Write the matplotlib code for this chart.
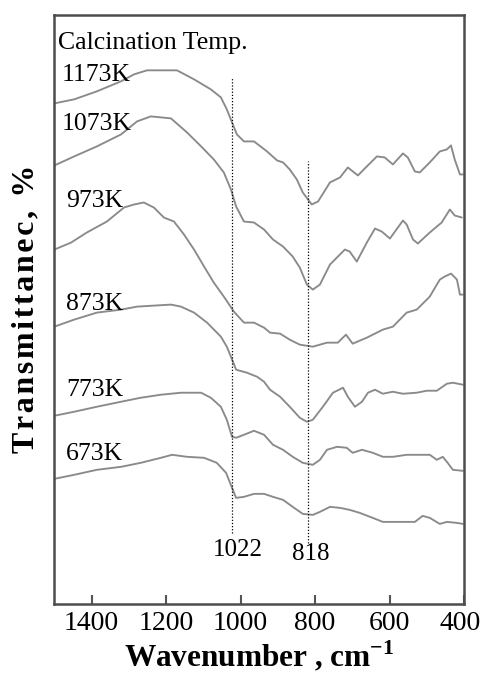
import matplotlib
matplotlib.use("Agg")
import matplotlib.pyplot as plt
import matplotlib.transforms as mtransforms

plt.rcParams['font.family'] = ['Liberation Serif', 'DejaVu Serif']
plt.rcParams['mathtext.fontset'] = 'custom'
plt.rcParams['mathtext.rm'] = 'Liberation Serif'
plt.rcParams['mathtext.bf'] = 'Liberation Serif:bold'

# ---- data (wavenumber, cm-1 ; transmittance in arbitrary offset units) ----
labels = ["1173K", "1073K", "973K", "873K", "773K", "673K"]

w_1173 = [1500, 1447, 1386, 1321, 1286, 1251, 1171, 1125, 1080, 1053, 1037, 1023, 1010, 991, 964, 929,
          902, 886, 868, 849, 833, 809, 792, 760, 733, 712, 685, 661, 634, 613, 591, 564, 551, 532,
          519, 492, 465, 446, 435, 425, 411, 403]
t_1173 = [500, 504, 512, 522, 529, 533, 533, 524, 514, 506, 494, 481, 469, 462, 462, 452,
          443, 441, 434, 424, 411, 399, 402, 421, 426, 436, 428, 437, 447, 446, 439, 450, 446, 432,
          431, 441, 452, 454, 458, 444, 429, 429]

w_1073 = [1500, 1447, 1386, 1321, 1278, 1241, 1187, 1144, 1106, 1072, 1045, 1026, 1012, 991, 964, 937,
          913, 886, 860, 841, 822, 806, 787, 760, 720, 707, 688, 661, 639, 621, 599, 564, 554, 537,
          524, 492, 460, 438, 425, 406]
t_1073 = [438, 447, 457, 469, 482, 487, 485, 471, 457, 444, 431, 414, 397, 382, 381, 374,
          364, 357, 347, 336, 319, 314, 319, 339, 354, 352, 342, 361, 375, 372, 365, 383, 379, 364,
          360, 371, 381, 394, 388, 386]

w_973 = [1500, 1455, 1413, 1359, 1313, 1286, 1260, 1233, 1206, 1179, 1152, 1125, 1098, 1072, 1045, 1018,
         991, 964, 937, 921, 894, 868, 841, 806, 768, 739, 717, 699, 661, 618, 591, 554, 527, 492,
         465, 452, 435, 419, 411, 403]
t_973 = [354, 361, 371, 382, 396, 399, 401, 396, 386, 382, 369, 354, 337, 321, 307, 292,
         281, 281, 276, 271, 270, 264, 259, 257, 261, 261, 269, 260, 266, 274, 277, 291, 294, 307,
         324, 327, 330, 324, 309, 309]

w_873 = [1500, 1447, 1386, 1321, 1278, 1233, 1187, 1160, 1125, 1090, 1053, 1037, 1026, 1012, 983, 956,
         937, 921, 894, 868, 841, 822, 806, 779, 752, 725, 712, 693, 674, 658, 639, 618, 591, 564,
         527, 500, 473, 446, 430, 403]
t_873 = [277, 284, 291, 294, 297, 298, 299, 297, 291, 281, 267, 257, 247, 234, 231, 227,
         222, 214, 207, 197, 186, 182, 184, 197, 211, 216, 207, 197, 202, 211, 214, 210, 212, 210,
         211, 213, 213, 220, 221, 219]

w_773 = [1500, 1447, 1386, 1321, 1268, 1214, 1160, 1106, 1080, 1053, 1037, 1023, 1012, 991, 964, 937,
         913, 886, 860, 833, 806, 787, 768, 741, 715, 699, 674, 645, 618, 591, 554, 519, 492, 473,
         457, 444, 430, 403]
t_773 = [188, 192, 197, 202, 206, 209, 211, 211, 206, 197, 184, 167, 166, 169, 173, 169,
         159, 154, 147, 141, 139, 144, 154, 157, 156, 151, 154, 151, 147, 147, 149, 149, 149, 144,
         147, 141, 134, 133]

w_673 = [1500, 1447, 1386, 1321, 1268, 1214, 1184, 1144, 1098, 1064, 1039, 1023, 1012, 991, 964, 937,
         913, 886, 860, 833, 806, 787, 760, 733, 707, 680, 645, 618, 572, 532, 511, 492, 465, 446,
         419, 403]
t_673 = [125, 129, 134, 137, 141, 146, 149, 147, 146, 141, 131, 116, 106, 107, 110, 110,
         107, 104, 97, 90, 89, 92, 97, 96, 94, 91, 86, 82, 82, 82, 88, 86, 80, 82,
         81, 80]

series_w = [w_1173, w_1073, w_973, w_873, w_773, w_673]
series_t = [t_1173, t_1073, t_973, t_873, t_773, t_673]

# label anchor (left x in wavenumber, centre y in transmittance units)
label_x = [1480, 1480, 1469, 1469, 1469, 1469]
label_y = [528, 479, 402, 300, 214, 150]

peaks = [1022, 818]
peak_top = [526, 442]
peak_bottom = [71, 61]
peak_label_x = [1007, 811]
peak_label_y = [54, 50]

xticks = [1400, 1200, 1000, 800, 600, 400]

# ---- figure ----
fig = plt.figure(figsize=(4.81, 6.75), dpi=100)
ax = fig.add_axes([0.1131, 0.1052, 0.8516, 0.8722])

for w, t in zip(series_w, series_t):
    ax.plot(w, t, color='#8a8a8a', lw=1.35, solid_joinstyle='round', solid_capstyle='round')

for p, top, bot in zip(peaks, peak_top, peak_bottom):
    ax.plot([p, p], [bot, top], color='black', lw=0.9, ls=(0, (1, 1.5)))

for p, lx, ly in zip(peaks, peak_label_x, peak_label_y):
    ax.text(lx, ly, str(p), ha='center', va='center', fontsize=18)

for lab, lx, ly in zip(labels, label_x, label_y):
    ax.text(lx, ly, lab, ha='left', va='center', fontsize=18.5)

ax.text(1490, 560, "Calcination Temp.", ha='left', va='center', fontsize=18.5)

ax.set_xlim(1500, 400)
ax.set_ylim(0, 588)
ax.set_xticks(xticks)
ax.set_xticklabels([str(v) for v in xticks], fontsize=20)
ax.set_yticks([])
ax.tick_params(axis='x', direction='in', length=6.5, width=1.5, color='#555555', pad=5)

# keep the last tick label inside the figure
last = ax.get_xticklabels()[-1]
last.set_transform(last.get_transform() + mtransforms.ScaledTranslation(-4 / 100, 0, fig.dpi_scale_trans))

for s in ax.spines.values():
    s.set_color('#4d4d4d')
    s.set_linewidth(1.8)

ax.set_xlabel(r'Wavenumber , cm$^{\mathbf{-1}}$', fontsize=22.5, fontweight='bold', labelpad=2)

ylab = '\u200a'.join("Transmittanec, %")
fig.text(26 / 481, 1 - 309 / 675, ylab, rotation=90, ha='center', va='center',
         fontsize=23, fontweight='bold')

fig.savefig('out.png', dpi=100)
